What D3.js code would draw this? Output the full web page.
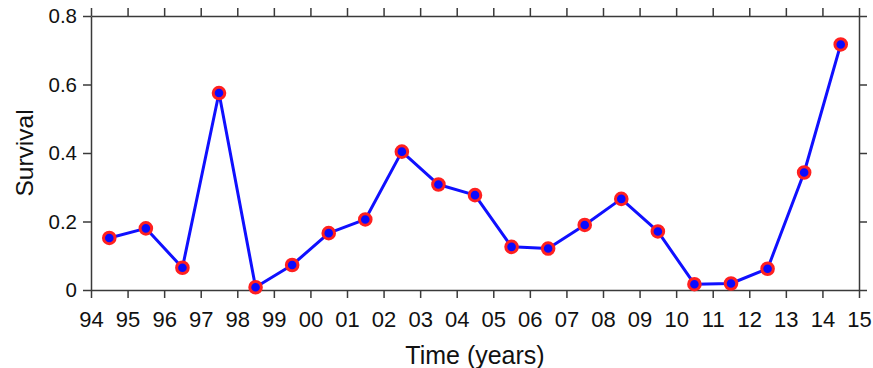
<!DOCTYPE html>
<html>
<head>
<meta charset="utf-8">
<script src="https://cdn.jsdelivr.net/npm/d3@7"></script>
<style>
  html, body { margin: 0; padding: 0; background: #ffffff; }
  svg { display: block; font-family: "Liberation Sans", Arial, sans-serif; }
  .axis path, .axis line { stroke: #3a3a3a; stroke-width: 1.5; }
  .axis text { fill: #111; }
</style>
</head>
<body>
<svg id="chart" width="873" height="368"></svg>
<script>
// Year tick labels along the time axis (start of each year)
const yearLabels = ["94","95","96","97","98","99","00","01","02","03","04",
                    "05","06","07","08","09","10","11","12","13","14","15"];
// Annual survival, plotted at the middle of each year (94.5 ... 14.5)
const survival = [0.152, 0.180, 0.065, 0.575, 0.008, 0.073, 0.166, 0.206,
                  0.404, 0.308, 0.277, 0.126, 0.121, 0.190, 0.266, 0.171,
                  0.017, 0.019, 0.062, 0.343, 0.717];
const yTicks = [0, 0.2, 0.4, 0.6, 0.8];

const svg = d3.select("#chart");
const plot = { left: 91, right: 859, top: 16, bottom: 290 };

const x = d3.scaleLinear().domain([0, yearLabels.length - 1]).range([plot.left, plot.right]);
const y = d3.scaleLinear().domain([0, 0.8]).range([plot.bottom, plot.top]);
const tickIdx = d3.range(yearLabels.length);

// Frame: all four sides carry outward ticks, labels only bottom and left
svg.append("g").attr("class", "axis")
  .attr("transform", `translate(0,${plot.bottom})`)
  .call(d3.axisBottom(x).tickValues(tickIdx).tickFormat(i => yearLabels[i])
        .tickSize(8).tickSizeOuter(0).tickPadding(13))
  .call(g => g.selectAll("text").attr("font-size", 22));

svg.append("g").attr("class", "axis")
  .attr("transform", `translate(0,${plot.top})`)
  .call(d3.axisTop(x).tickValues(tickIdx).tickFormat("")
        .tickSize(8).tickSizeOuter(0));

svg.append("g").attr("class", "axis")
  .attr("transform", `translate(${plot.left},0)`)
  .call(d3.axisLeft(y).tickValues(yTicks).tickFormat(d => d === 0 ? "0" : d3.format(".1f")(d))
        .tickSize(8).tickSizeOuter(0).tickPadding(6))
  .call(g => g.selectAll("text").attr("font-size", 20.5));

svg.append("g").attr("class", "axis")
  .attr("transform", `translate(${plot.right},0)`)
  .call(d3.axisRight(y).tickValues(yTicks).tickFormat("")
        .tickSize(8).tickSizeOuter(0));

svg.selectAll(".axis .domain").attr("stroke", "#3a3a3a").attr("stroke-width", 1.5);

// Survival series
const pts = survival.map((v, i) => ({ t: i + 0.5, v }));

svg.append("path")
  .datum(pts)
  .attr("fill", "none")
  .attr("stroke", "#1010ff")
  .attr("stroke-width", 3)
  .attr("stroke-linejoin", "round")
  .attr("d", d3.line().x(d => x(d.t)).y(d => y(d.v)));

svg.append("g").selectAll("circle")
  .data(pts)
  .join("circle")
  .attr("cx", d => x(d.t))
  .attr("cy", d => y(d.v))
  .attr("r", 5.8)
  .attr("fill", "#0a0aff")
  .attr("stroke", "#ff2020")
  .attr("stroke-width", 3);

// Axis titles
svg.append("text")
  .attr("x", (plot.left + plot.right) / 2)
  .attr("y", 364)
  .attr("text-anchor", "middle")
  .attr("font-size", 25)
  .attr("fill", "#111")
  .text("Time (years)");

svg.append("text")
  .attr("transform", `translate(33,${(plot.top + plot.bottom) / 2}) rotate(-90)`)
  .attr("text-anchor", "middle")
  .attr("font-size", 24.5)
  .attr("fill", "#111")
  .text("Survival");
</script>
</body>
</html>
